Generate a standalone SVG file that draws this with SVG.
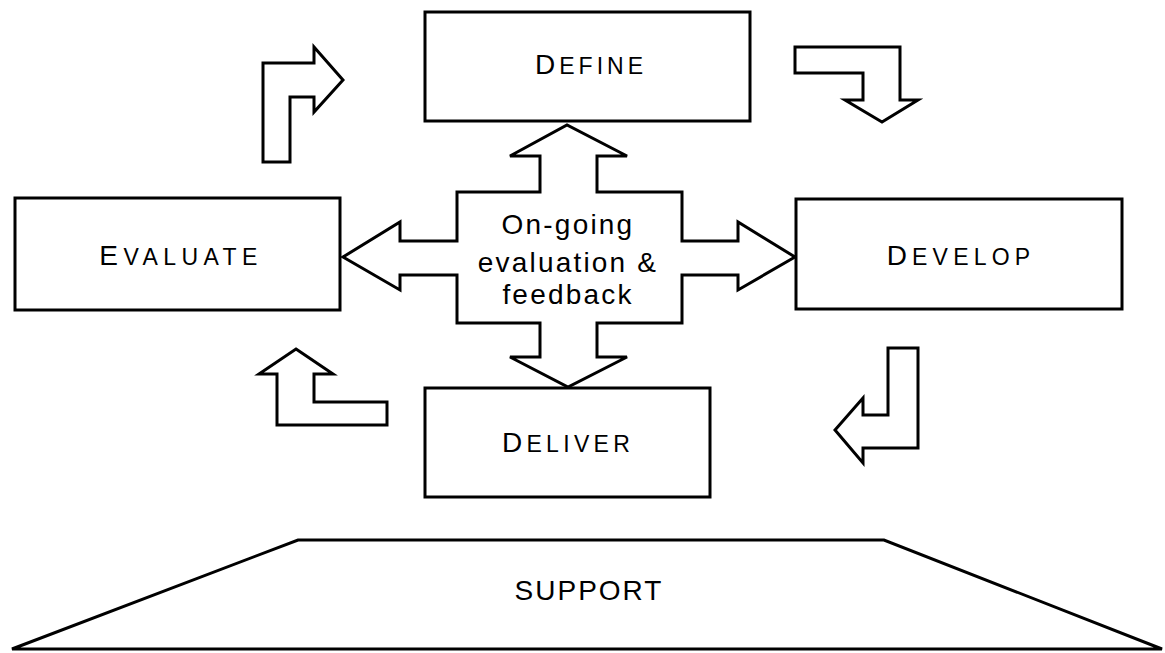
<svg xmlns="http://www.w3.org/2000/svg" width="1165" height="653" viewBox="0 0 1165 653">
  <style>
    .box { fill: #ffffff; stroke: #000000; stroke-width: 3; }
    .arrow { fill: #ffffff; stroke: #000000; stroke-width: 3; stroke-linejoin: miter; }
    .label { font-family: "Liberation Sans", Arial, sans-serif; fill: #000000; text-anchor: middle; }
    .cap { font-size: 28px; }
    .sc { font-size: 23px; }
    .hub { font-family: "Liberation Sans", Arial, sans-serif; font-size: 28px; fill: #000000; text-anchor: middle; letter-spacing: 2.2px; }
  </style>
  <rect width="1165" height="653" fill="#ffffff"/>

  <!-- connectors: bent cycle arrows and the central feedback cross -->
  <g id="connectors">
    <polygon id="arrow-evaluate-define" class="arrow" points="263,162 263,63 314,63 314,47 343,80 314,112 314,97 290,97 290,162"/>
    <polygon id="arrow-define-develop" class="arrow" points="795,47 900,47 900,100 918,100 882,122 845,100 863,100 863,73 795,73"/>
    <polygon id="arrow-develop-deliver" class="arrow" points="888,348 918,348 918,448 863,448 863,463 835,430 863,398 863,415 888,415"/>
    <polygon id="arrow-deliver-evaluate" class="arrow" points="296,349 333,374 314,374 314,402 387,402 387,425 277,425 277,374 259,374"/>
  </g>

  <!-- central hub with four-way arrows -->
  <g id="feedback">
    <polygon class="arrow" points="540,192 540,156 510,156 567,125 627,156 597,156 597,192 682,192 682,241 738,241 738,222 795,257 738,290 738,275 682,275 682,323 597,323 597,357 627,357 568,387 510,357 540,357 540,323 457,323 457,275 400,275 400,290 343,257 400,222 400,241 457,241 457,192"/>
    <text class="hub" x="568" y="234">On-going</text>
    <text class="hub" x="568" y="272">evaluation &amp;</text>
    <text class="hub" x="568" y="304">feedback</text>
  </g>

  <g id="define">
    <rect class="box" x="425" y="12" width="325" height="109"/>
    <text class="label" x="591" y="74" letter-spacing="4"><tspan class="cap">D</tspan><tspan class="sc">EFINE</tspan></text>
  </g>

  <g id="evaluate">
    <rect class="box" x="15" y="198" width="325" height="112"/>
    <text class="label" x="181" y="265" letter-spacing="5.4"><tspan class="cap">E</tspan><tspan class="sc">VALUATE</tspan></text>
  </g>

  <g id="develop">
    <rect class="box" x="796" y="199" width="326" height="110"/>
    <text class="label" x="961" y="265" letter-spacing="5.2"><tspan class="cap">D</tspan><tspan class="sc">EVELOP</tspan></text>
  </g>

  <g id="deliver">
    <rect class="box" x="425" y="388" width="285" height="109"/>
    <text class="label" x="568" y="452" letter-spacing="4.3"><tspan class="cap">D</tspan><tspan class="sc">ELIVER</tspan></text>
  </g>

  <g id="support">
    <polygon class="box" points="298,540 884,540 1162,649 12,649"/>
    <text class="label cap" x="589" y="600" letter-spacing="2">SUPPORT</text>
  </g>
</svg>
